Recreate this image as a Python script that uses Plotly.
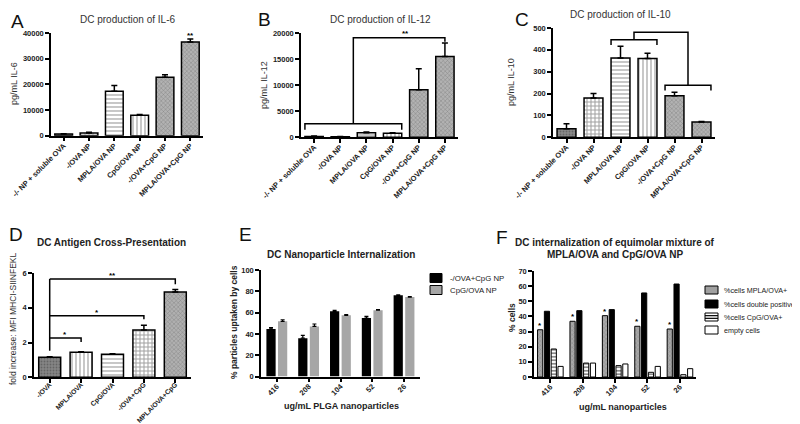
import plotly.graph_objects as go

FONT = "Liberation Sans, Arial, Helvetica, sans-serif"
W, H = 800, 424

# ---------------- data ----------------
cat_top = ["-/- NP + soluble OVA", "-/OVA NP", "MPLA/OVA NP", "CpG/OVA NP",
           "-/OVA+CpG NP", "MPLA/OVA+CpG NP"]
il6 = [650, 1050, 17300, 7950, 22750, 36500]
il6_err = [150, 250, 2300, 350, 1000, 1200]
il12 = [150, 100, 880, 770, 9140, 15470]
il12_err = [80, 50, 150, 100, 4000, 2600]
il10 = [39, 180, 363, 360, 190, 70]
il10_err = [23, 20, 53, 25, 16, 2]

cat_d = ["-/OVA", "MPLA/OVA", "CpG/OVA", "-/OVA+CpG", "MPLA/OVA+CpG"]
fold = [1.15, 1.44, 1.32, 2.72, 4.9]
fold_err = [0.03, 0.03, 0.03, 0.27, 0.15]

doses = ["416", "208", "104", "52", "26"]
e_names = ["-/OVA+CpG NP", "CpG/OVA NP"]
e_ctrl = [44.6, 36.0, 61.2, 54.9, 76.2]
e_ctrl_err = [1.2, 2.6, 0.8, 1.6, 0.5]
e_cpg = [51.8, 47.0, 57.4, 62.2, 74.6]
e_cpg_err = [1.5, 2.3, 0.8, 0.6, 0.5]

f_names = ["%cells MPLA/OVA+", "%cells double positive", "%cells CpG/OVA+", "empty cells"]
f_mpla = [31.2, 36.8, 40.5, 33.5, 31.7]
f_double = [43.4, 43.8, 44.5, 55.5, 61.4]
f_cpg = [18.5, 9.2, 7.5, 3.1, 1.5]
f_empty = [7.0, 9.2, 8.6, 7.0, 5.5]

# significance bracket levels (data units)
b_low, b_low_drop, b_top, b_top_drop = 2600, 1150, 19100, 800
c_hi, c_lo, c_top, c_drop = 446, 238, 481, 24
d_levels = [2.26, 3.54, 5.65]
d_drops = [0.23, 0.2, 0.29]
d_start = 1.53

# ---------------- styles ----------------
top_fill = ["#8a8a8a", "white", "white", "white", "#b2b2b2", "#b2b2b2"]
top_shape = [".", "+", "-", "|", "x", "x"]
top_fg = ["#5a5a5a", "black", "#505050", "#505050", "#707070", "#707070"]
top_size = [3, 4, 4, 4, 3, 3]
top_sol = [0.3, 0.45, 0.3, 0.3, 0.25, 0.25]

d_fill = ["#858585", "white", "white", "white", "#b0b0b0"]
d_shape = [".", "|", "-", "+", "x"]
d_fg = ["#5a5a5a", "#505050", "#505050", "black", "#707070"]
d_size = [3, 4, 4, 4, 3]
d_sol = [0.3, 0.3, 0.3, 0.45, 0.25]

fig = go.Figure()


def PX(p):
    return p / W


def PY(p):
    return 1 - p / H


panels = [
    ("", (43, 195), (127.7, 25), [0, 40000], 10000, cat_top, 7.5, -3),
    ("2", (293, 450), (129.3, 25), [0, 20000], 5000, cat_top, 7.5, -3),
    ("3", (545, 707), (129.3, 20), [0, 500], 100, cat_top, 7.5, -3),
    ("4", (26, 183), (369.3, 265), [0, 6], 2, cat_d, 6.8, -5),
    ("5", (253, 412), (368.5, 262), [0, 100], 20, doses, 7.5, -3),
    ("6", (526, 688), (369, 263), [0, 70], 10, doses, 7.5, -3),
]

for pid, xr, yr, rng, dt, cats, xfs, sto in panels:
    n = len(cats)
    fig.layout["xaxis" + pid] = dict(
        domain=[PX(xr[0]), PX(xr[1])], anchor="y" + pid, range=[-0.5, n - 0.5],
        tickvals=list(range(n)), ticktext=cats, tickangle=-45,
        showline=True, linecolor="black", linewidth=1.5, ticks="outside",
        ticklen=4, tickwidth=1.5, tickcolor="black", showgrid=False,
        zeroline=False, automargin=False, fixedrange=True,
        tickfont=dict(family=FONT, size=xfs, color="#222", weight="bold"),
        ticklabelstandoff=sto)
    fig.layout["yaxis" + pid] = dict(
        domain=[PY(yr[0]), PY(yr[1])], anchor="x" + pid, range=rng, dtick=dt,
        tickformat="d", showline=True, linecolor="black", linewidth=1.5,
        ticks="outside", ticklen=4, tickwidth=1.5, tickcolor="black",
        showgrid=False, zeroline=False, automargin=False, fixedrange=True,
        tickfont=dict(family=FONT, size=7.5, color="#222", weight="bold"))


def single_bars(vals, errs, fills, shapes, fgs, sizes, sols, pid):
    n = len(vals)
    fig.add_trace(go.Bar(
        x=list(range(n)), y=vals, width=0.7,
        marker=dict(color=fills, line=dict(color="black", width=1.5),
                    pattern=dict(shape=shapes, fgcolor=fgs, size=sizes,
                                 solidity=sols, fillmode="overlay")),
        error_y=dict(type="data", symmetric=False, array=errs,
                     arrayminus=[0] * n, color="black", thickness=1.5, width=3),
        xaxis="x" + pid, yaxis="y" + pid, showlegend=False, hoverinfo="skip"))


single_bars(il6, il6_err, top_fill, top_shape, top_fg, top_size, top_sol, "")
single_bars(il12, il12_err, top_fill, top_shape, top_fg, top_size, top_sol, "2")
single_bars(il10, il10_err, top_fill, top_shape, top_fg, top_size, top_sol, "3")
single_bars(fold, fold_err, d_fill, d_shape, d_fg, d_size, d_sol, "4")


def lines(xs, ys, pid):
    fig.add_trace(go.Scatter(x=xs, y=ys, mode="lines",
                             line=dict(color="black", width=1.5),
                             xaxis="x" + pid, yaxis="y" + pid,
                             showlegend=False, hoverinfo="skip"))


hw = 0.35
lines([0 - hw, 0 - hw, 3 + hw, 3 + hw, None, 1.5, 1.5, 5, 5],
      [b_low - b_low_drop, b_low, b_low, b_low - b_low_drop, None,
       b_low, b_top, b_top, b_top - b_top_drop], "2")
lines([2 - hw, 2 - hw, 3 + hw, 3 + hw, None, 4 - hw, 4 - hw, 5 + hw, 5 + hw, None,
       2.5, 2.5, 4.5, 4.5],
      [c_hi - c_drop, c_hi, c_hi, c_hi - c_drop, None,
       c_lo - c_drop, c_lo, c_lo, c_lo - c_drop, None,
       c_hi, c_top, c_top, c_lo], "3")
d_targets = [1, 3, 4]
xs = [0, 0]
ys = [d_start, d_levels[-1]]
for t, lv, dr in zip(d_targets, d_levels, d_drops):
    xs += [None, 0, t, t]
    ys += [None, lv, lv, lv - dr]
lines(xs, ys, "4")

# E grouped bars
for vals, errs, name, col, off in [(e_ctrl, e_ctrl_err, e_names[0], "black", -0.33),
                                   (e_cpg, e_cpg_err, e_names[1], "#a6a6a6", 0.035)]:
    fig.add_trace(go.Bar(
        x=list(range(5)), y=vals, width=0.29, offset=off, name=name,
        marker=dict(color=col, line=dict(width=0)),
        error_y=dict(type="data", symmetric=False, array=errs,
                     arrayminus=[0] * 5, color="black", thickness=1.2, width=2),
        xaxis="x5", yaxis="y5", showlegend=False, hoverinfo="skip"))

# F grouped bars
f_series = [
    (f_mpla, f_names[0], dict(color="#a8a8a8", line=dict(color="black", width=1),
                              pattern=dict(shape="x", fgcolor="#666", size=3,
                                           solidity=0.25, fillmode="overlay")), -0.39),
    (f_double, f_names[1], dict(color="black", line=dict(color="black", width=1)), -0.18),
    (f_cpg, f_names[2], dict(color="white", line=dict(color="black", width=1),
                             pattern=dict(shape="-", fgcolor="black", size=3.5,
                                          solidity=0.45, fillmode="overlay")), 0.03),
    (f_empty, f_names[3], dict(color="white", line=dict(color="black", width=1)), 0.24),
]
for vals, name, mk, off in f_series:
    fig.add_trace(go.Bar(x=list(range(5)), y=vals, width=0.16, offset=off, name=name,
                         marker=mk, xaxis="x6", yaxis="y6", showlegend=False,
                         hoverinfo="skip"))

ann = []
shapes = []


def txt(x, y, s, size, bold=False, color="#222", angle=0, xanchor="center"):
    ann.append(dict(x=PX(x), y=PY(y), xref="paper", yref="paper", text=s,
                    showarrow=False, textangle=angle, xanchor=xanchor, yanchor="middle",
                    font=dict(family=FONT, size=size, color=color,
                              weight="bold" if bold else "normal")))


def star(x, y, pid, s="*"):
    ann.append(dict(x=x, y=y, xref="x" + pid, yref="y" + pid, text=s, showarrow=False,
                    yanchor="middle", font=dict(family=FONT, size=8, color="black",
                                                weight="bold")))


def swatch(x0, yc, w, h, fill, stripes=0):
    shapes.append(dict(type="rect", xref="paper", yref="paper",
                       x0=PX(x0), x1=PX(x0 + w), y0=PY(yc + h / 2), y1=PY(yc - h / 2),
                       fillcolor=fill, line=dict(color="black", width=1)))
    for k in range(stripes):
        yy = yc - h / 2 + h * (k + 1) / (stripes + 1)
        shapes.append(dict(type="line", xref="paper", yref="paper",
                           x0=PX(x0), x1=PX(x0 + w), y0=PY(yy), y1=PY(yy),
                           line=dict(color="black", width=1.2)))


# panel letters
for L, x, y in [("A", 9, 13), ("B", 256, 12), ("C", 514, 12),
                ("D", 8, 226), ("E", 237, 226), ("F", 494, 229)]:
    txt(x, y, L, 19, color="#111")

# titles
txt(119, 12, "DC production of IL-6", 10, color="#333")
txt(372, 12, "DC production of IL-12", 10, color="#333")
txt(612, 6, "DC production of IL-10", 10, color="#333")
txt(103, 234, "DC Antigen Cross-Presentation", 10, bold=True)
txt(333, 247, "DC Nanoparticle Internalization", 10, bold=True)
txt(607, 235, "DC internalization of equimolar mixture of", 10, bold=True)
txt(607, 247, "MPLA/OVA and CpG/OVA NP", 10, bold=True)

# y titles
txt(6, 76, "pg/mL IL-6", 9, color="#333", angle=-90)
txt(256, 77, "pg/mL IL-12", 9, color="#333", angle=-90)
txt(503, 74, "pg/mL IL-10", 9, color="#333", angle=-90)
txt(5, 311, "fold increase: MFI MHCI-SIINFEKL", 8.5, color="#333", angle=-90)
txt(226, 314, "% particles uptaken by cells", 8.5, bold=True, angle=-90)
txt(504, 310, "% cells", 8.5, bold=True, angle=-90)

# x titles
txt(333, 398, "ug/mL PLGA nanoparticles", 9, bold=True)
txt(615, 399, "ug/mL nanoparticles", 9, bold=True)

# legends (manual, compact)
for (name, fill), yc in zip([(e_names[0], "black"), (e_names[1], "#a6a6a6")], [270, 282]):
    swatch(422, yc, 12, 9, fill)
    txt(440, yc, name, 7.8, color="#222", xanchor="left")
for (name, fill, st), yc in zip([(f_names[0], "#a0a0a0", 0), (f_names[1], "black", 0),
                                 (f_names[2], "white", 2), (f_names[3], "white", 0)],
                                [282, 296, 309, 322]):
    swatch(697, yc, 13, 8, fill, st)
    txt(714, yc, name, 7.2, color="#222", xanchor="left")

# significance stars
star(5, il6[5] + il6_err[5] + 1500, "", "**")
star(3.5, b_top + 900, "2", "**")
star(3.5, c_top + 20, "3", "*")
for t, lv in zip(d_targets, d_levels):
    star(t / 2, lv + 0.18, "4", "*" if t != 4 else "**")
for i, v in enumerate(f_mpla):
    star(i - 0.39 + 0.08, v + 3, "6", "*")

fig.update_layout(
    width=W, height=H, margin=dict(l=0, r=0, t=0, b=0),
    paper_bgcolor="white", plot_bgcolor="white", barmode="overlay",
    annotations=ann, shapes=shapes, showlegend=False,
)

fig.write_html("out.html")
